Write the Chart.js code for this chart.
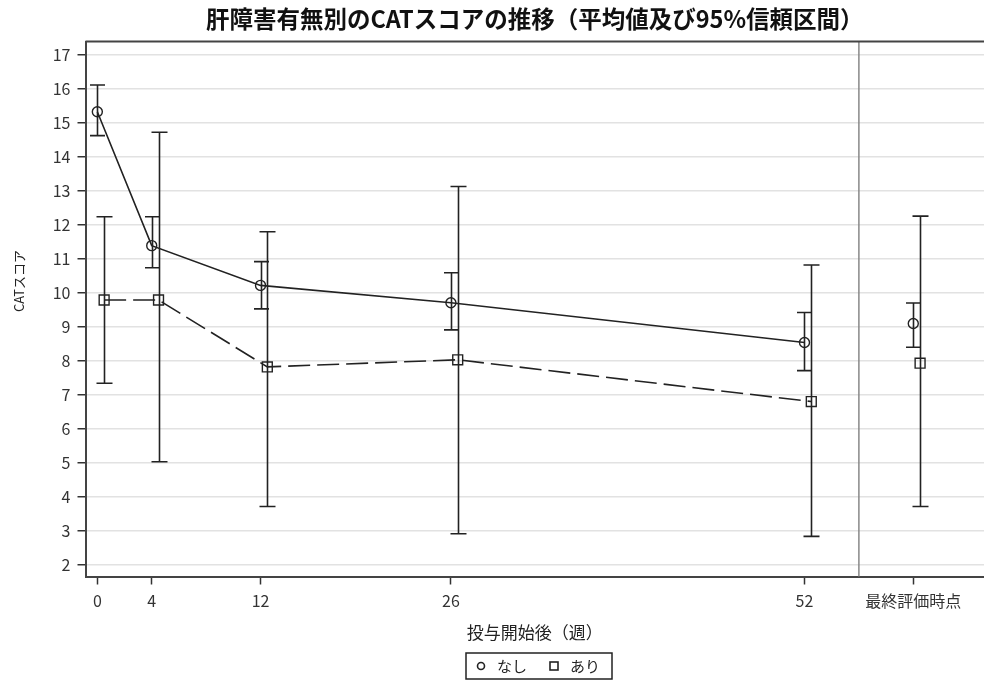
<!DOCTYPE html>
<html>
<head>
<meta charset="utf-8">
<script src="https://cdn.jsdelivr.net/npm/chart.js@4.4.1/dist/chart.umd.min.js"></script>
<style>
  html, body { margin: 0; padding: 0; background: #fff; }
  #wrap { width: 984px; height: 681px; }
</style>
</head>
<body>
<div id="wrap"><canvas id="chart" width="984" height="681"></canvas></div>
<script>
// Visit weeks plotted on a numeric axis; the final assessment sits in its own column.
const weeks = [0, 4, 12, 26, 52];
const finalPos = 60;
const dividerPos = 56;
const tickValues = [0, 4, 12, 26, 52, 60];
const tickLabels = ['0', '4', '12', '26', '52', '最終評価時点'];
const yTicks = [2, 3, 4, 5, 6, 7, 8, 9, 10, 11, 12, 13, 14, 15, 16, 17];

// 肝障害なし: mean and 95% CI (weeks 0, 4, 12, 26, 52, final)
const noneMean = [15.33, 11.39, 10.22, 9.71, 8.54, 9.10];
const noneLow  = [14.63, 10.74, 9.53, 8.91, 7.71, 8.40];
const noneHigh = [16.12, 12.24, 10.92, 10.59, 9.42, 9.70];

// 肝障害あり: mean and 95% CI
const withMean = [9.79, 9.79, 7.82, 8.03, 6.80, 7.93];
const withLow  = [7.34, 5.03, 3.71, 2.91, 2.83, 3.71];
const withHigh = [12.24, 14.73, 11.80, 13.13, 10.82, 12.26];

const positions = [...weeks, finalPos];
const INK = '#222';

// Points for one group; a null point breaks the line before the final column.
function seriesPoints(means, shift) {
  const pts = positions.map((p, i) => ({ x: p + shift, y: means[i] }));
  pts.splice(weeks.length, 0, { x: dividerPos, y: null });
  return pts;
}

const groups = [
  { shift: 0,   low: noneLow, high: noneHigh, cap: 7.5 },
  { shift: 0.5, low: withLow, high: withHigh, cap: 8 }
];

// Vertical CI whiskers with caps
const errorBars = {
  id: 'errorBars',
  afterDatasetsDraw(chart) {
    const { ctx, scales: { x, y } } = chart;
    ctx.save();
    ctx.strokeStyle = INK;
    ctx.lineWidth = 1.6;
    groups.forEach(g => {
      positions.forEach((p, i) => {
        const px = Math.round(x.getPixelForValue(p + g.shift)) + 0.5;
        const top = y.getPixelForValue(g.high[i]);
        const bot = y.getPixelForValue(g.low[i]);
        ctx.beginPath();
        ctx.moveTo(px, top); ctx.lineTo(px, bot);
        ctx.moveTo(px - g.cap, top); ctx.lineTo(px + g.cap, top);
        ctx.moveTo(px - g.cap, bot); ctx.lineTo(px + g.cap, bot);
        ctx.stroke();
      });
    });
    ctx.restore();
  }
};

// Top frame line and the separator before the final assessment column
const frame = {
  id: 'frame',
  beforeDatasetsDraw(chart) {
    const { ctx, chartArea: a, scales: { x } } = chart;
    ctx.save();
    ctx.strokeStyle = '#888';
    ctx.lineWidth = 1.5;
    const dx = x.getPixelForValue(dividerPos);
    ctx.beginPath();
    ctx.moveTo(dx, a.top); ctx.lineTo(dx, a.bottom);
    ctx.stroke();
    ctx.strokeStyle = '#444';
    ctx.lineWidth = 2;
    ctx.beginPath();
    ctx.moveTo(a.left, a.top); ctx.lineTo(a.right, a.top);
    ctx.stroke();
    ctx.restore();
  }
};

// Y axis title and the boxed legend
const annotations = {
  id: 'annotations',
  afterDraw(chart) {
    const { ctx } = chart;
    ctx.save();
    ctx.fillStyle = INK;
    ctx.font = "13px 'Noto Sans CJK JP', sans-serif";
    ctx.textAlign = 'center';
    ctx.textBaseline = 'middle';
    ctx.translate(19, 281);
    ctx.rotate(-Math.PI / 2);
    ctx.fillText('CATスコア', 0, 0);
    ctx.restore();

    ctx.save();
    const bx = 466, by = 653, bw = 146, bh = 26, cy = by + bh / 2;
    ctx.strokeStyle = INK;
    ctx.lineWidth = 1.5;
    ctx.strokeRect(bx, by, bw, bh);
    ctx.lineWidth = 1.6;
    ctx.beginPath();
    ctx.arc(481, cy, 3.5, 0, Math.PI * 2);
    ctx.stroke();
    ctx.strokeRect(550, cy - 4, 8, 8);
    ctx.fillStyle = INK;
    ctx.font = "15px 'Noto Sans CJK JP', sans-serif";
    ctx.textAlign = 'left';
    ctx.textBaseline = 'middle';
    ctx.fillText(chart.data.datasets[0].label, 497, cy);
    ctx.fillText(chart.data.datasets[1].label, 570, cy);
    ctx.restore();
  }
};

const tickFont = { family: "'Noto Sans CJK JP', sans-serif", size: 16 };

new Chart(document.getElementById('chart'), {
  type: 'line',
  data: {
    datasets: [
      {
        label: 'なし',
        data: seriesPoints(noneMean, 0),
        borderColor: INK,
        borderWidth: 1.6,
        pointStyle: 'circle',
        pointRadius: 5,
        pointBorderWidth: 1.4,
        pointBorderColor: INK,
        pointBackgroundColor: 'rgba(0,0,0,0)',
        spanGaps: false,
        tension: 0
      },
      {
        label: 'あり',
        data: seriesPoints(withMean, 0.5),
        borderColor: INK,
        borderWidth: 1.6,
        borderDash: [22, 7],
        pointStyle: 'rect',
        pointRadius: 7,
        pointBorderWidth: 1.4,
        pointBorderColor: INK,
        pointBackgroundColor: 'rgba(0,0,0,0)',
        spanGaps: false,
        tension: 0
      }
    ]
  },
  options: {
    responsive: false,
    animation: false,
    devicePixelRatio: 1,
    layout: { autoPadding: false, padding: { left: 0, right: 0, top: 0, bottom: 38 } },
    plugins: {
      legend: { display: false },
      tooltip: { enabled: false },
      title: {
        display: true,
        fullSize: false,
        text: '肝障害有無別のCATスコアの推移（平均値及び95%信頼区間）',
        color: '#111',
        font: { family: "'Noto Sans CJK JP', sans-serif", size: 23.5, weight: 'bold' },
        padding: { top: 4.5, bottom: 8.8 }
      }
    },
    scales: {
      x: {
        type: 'linear',
        min: -0.87,
        max: 65.2,
        afterBuildTicks(s) { s.ticks = tickValues.map(v => ({ value: v })); },
        afterFit(s) { s.height = 66.5; s.paddingLeft = 0; s.paddingRight = 0; },
        ticks: {
          autoSkip: false,
          maxRotation: 0,
          padding: 7,
          color: '#333',
          font: tickFont,
          callback: v => tickLabels[tickValues.indexOf(v)]
        },
        grid: { drawOnChartArea: false, tickLength: 8, tickColor: '#333', tickWidth: 1.5 },
        border: { color: '#444', width: 2 },
        title: {
          display: true,
          text: '投与開始後（週）',
          color: INK,
          font: { family: "'Noto Sans CJK JP', sans-serif", size: 17 },
          padding: { top: 4, bottom: 0 }
        }
      },
      y: {
        min: 1.65,
        max: 17.4,
        afterBuildTicks(s) { s.ticks = yTicks.map(v => ({ value: v })); },
        afterFit(s) { s.width = 85.5; },
        ticks: { padding: 7, color: '#333', font: tickFont },
        grid: { color: '#e2e2e2', lineWidth: 1.5, tickLength: 8, tickColor: '#333', tickWidth: 1.5 },
        border: { color: '#444', width: 2 }
      }
    }
  },
  plugins: [frame, errorBars, annotations]
});
</script>
</body>
</html>
